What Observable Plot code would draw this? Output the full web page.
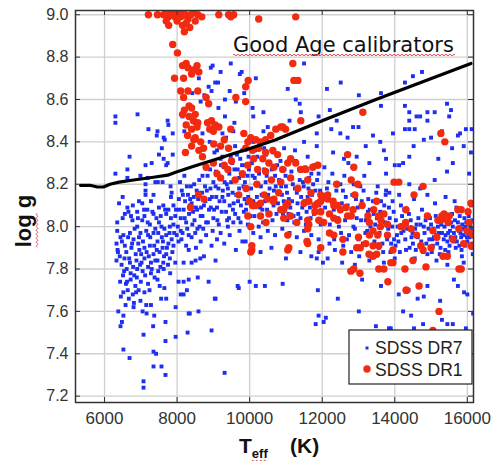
<!DOCTYPE html>
<html><head><meta charset="utf-8">
<script src="https://cdn.jsdelivr.net/npm/d3@7"></script>
<script src="https://cdn.jsdelivr.net/npm/@observablehq/plot@0.6"></script>
<style>
html,body{margin:0;padding:0;background:#fff;width:494px;height:461px;overflow:hidden;}
</style>
</head><body><div id="chart"></div>
<script>
const xTicks = [6000, 8000, 10000, 12000, 14000, 16000];
const yTicks = [7.2, 7.4, 7.6, 7.8, 8.0, 8.2, 8.4, 8.6, 8.8, 9.0];
const seriesNames = ["SDSS DR7", "SDSS DR1"];
const titleText = "Good Age calibrators";

// SDSS DR7: [Teff (K), log g]
const dr7 = [
[6300,8.52],[6300,8.49],[6910,8.53],[7210,8.46],[7460,8.45],[7440,8.43],[7630,8.42],[7660,8.41],[7740,8.50],[7760,8.48],[7880,8.44],[7580,8.37],[7500,8.34],[7630,8.32],[7740,8.30],[7700,8.29],[7880,8.34],[6690,8.33],[7130,8.29],[7300,8.30],[6990,8.24],[6630,8.27],[6630,8.23],[6300,8.25],[7190,8.23],[7400,8.21],[7470,8.21],[6500,8.14],[7130,8.20],[7130,8.17],[7130,8.15],[7350,8.15],[7600,8.21],[7820,8.19],[7850,8.16],[7830,8.14],
[6400,8.11],[6630,8.09],[6780,8.10],[7040,8.11],[7180,8.08],[7500,8.09],[7620,8.10],[7760,8.08],[7900,8.10],[7280,8.12],[6950,8.12],
[6660,8.07],[6900,8.07],[7100,8.05],[7350,8.06],[7550,8.05],[7700,8.06],[7950,8.05],[6500,8.04],[6770,8.03],
[7040,8.03],[7250,8.01],[7500,8.02],[7800,8.00],[6350,7.98],[6900,8.00],[7650,7.99],[7900,8.01],[7400,7.99],[7150,7.98],
[6440,7.95],[6520,7.96],[6700,7.97],[6950,7.95],[7200,7.96],[7350,7.97],[7580,7.95],[7700,7.96],[7850,7.94],[7990,7.96],[6800,7.94],[7460,7.93],
[6330,7.92],[6360,7.89],[6370,7.88],[6560,7.91],[6740,7.90],[6930,7.92],[7100,7.90],[7250,7.91],[7440,7.89],[7600,7.90],[7760,7.92],[7900,7.91],[7010,7.87],[7350,7.87],[7700,7.87],
[6330,7.84],[6550,7.85],[6700,7.83],[6880,7.84],[7100,7.85],[7280,7.83],[7460,7.84],[7620,7.83],[7800,7.85],[7950,7.83],[6470,7.82],[7200,7.81],[6980,7.82],
[6540,7.79],[6720,7.78],[6900,7.80],[7050,7.79],[7280,7.78],[7480,7.79],[7630,7.80],[7810,7.78],[6820,7.77],[7380,7.76],
[6430,7.74],[6590,7.73],[6720,7.75],[6850,7.72],[7000,7.74],[7200,7.73],[7460,7.75],[7650,7.71],[6640,7.70],[6940,7.70],[7100,7.69],[6780,7.68],
[6450,7.67],[6670,7.66],[6810,7.64],[6990,7.65],[7150,7.63],[7280,7.63],[7700,7.66],[7960,7.62],[6580,7.63],[6520,7.69],
[6350,8.02],[6420,7.86],[6480,7.93],[6510,7.77],[6560,8.06],[6600,7.88],[6610,7.80],[6650,7.95],[6680,7.85],[6730,8.05],[6760,7.92],[6790,7.81],[6830,7.99],[6860,7.87],[6890,7.76],[6920,8.04],[6960,7.89],[6990,7.97],[7020,7.83],[7060,7.93],[7090,8.08],[7120,7.77],[7160,7.88],[7190,8.02],[7220,7.86],[7260,7.95],[7300,7.80],[7320,8.07],[7370,7.91],[7400,7.84],[7430,8.04],[7480,7.97],[7520,7.88],[7540,7.81],[7570,8.00],[7610,7.93],[7640,7.86],[7670,8.08],[7720,7.90],[7750,7.82],[7790,7.97],[7830,8.04],[7870,7.88],[7920,7.97],[7970,8.08],[6620,7.74],[6870,7.69],[7240,7.70],[7520,7.72],[7560,7.66],
[6380,7.60],[7050,7.60],[7160,7.59],[6520,7.58],[6480,7.55],[6440,7.53],[7370,7.58],[7680,7.55],[7075,7.49],[6520,7.42],[6690,7.38],[7350,7.41],[7420,7.40],[7350,7.34],[7570,7.34],[7680,7.30],[7075,7.27],[7075,7.24],[7680,7.46],[6800,7.62],[7340,7.53],[7960,7.48],[8290,7.50],[8350,7.59],[8590,7.60],[8950,7.51],[9040,7.66],[9310,7.31],[9670,7.72],
[8320,7.89],[8180,7.83],[8400,7.83],[8510,7.84],[8640,7.85],[8740,7.86],[9060,7.84],[8040,7.74],[8180,7.74],[8320,7.75],[8570,7.76],[8870,7.74],[8100,7.68],[8180,7.68],[8270,7.70],[9060,7.66],[9700,7.71],[10000,7.74],[10170,7.72],[10420,7.72],[8320,7.59],
[8040,7.93],[8150,7.97],[8250,7.91],[8400,7.95],[8520,7.90],[8650,7.93],[8800,7.96],[8950,7.91],[9100,7.94],[9300,7.92],[9450,7.96],[9620,7.89],[9800,7.93],[9890,7.93],
[8020,8.00],[8100,8.04],[8180,8.08],[8250,8.02],[8330,8.06],[8400,8.11],[8480,8.03],[8550,8.08],[8620,8.00],[8700,8.05],[8780,8.12],[8850,8.02],[8930,8.09],[9000,8.04],[9080,8.14],[9150,8.01],[9230,8.07],[9300,8.12],[9380,8.03],[9450,8.10],[9530,8.16],[9600,8.06],[9680,8.12],[9750,8.02],[9830,8.19],[9900,8.08],[9960,8.14],
[8050,8.13],[8130,8.17],[8220,8.12],[8300,8.15],[8380,8.19],[8460,8.14],[8540,8.17],[8610,8.22],[8690,8.16],[8770,8.19],[8840,8.24],[8920,8.18],[9000,8.21],[9070,8.26],[9140,8.18],[9220,8.23],[9290,8.28],[9370,8.20],[9440,8.25],[9520,8.30],[9590,8.22],[9670,8.27],[9740,8.32],[9820,8.24],[9890,8.29],[9970,8.33],
[8080,8.21],[8200,8.24],[8350,8.10],[8440,8.07],[8580,8.13],[8660,8.09],[8900,8.13],[9100,8.09],[9260,8.17],[9410,8.15],[9560,8.11],[9710,8.18],[9860,8.13],[9940,8.24],[9650,8.34],[9480,8.33],[9800,8.36],
[8100,7.98],[8280,7.99],[8500,7.97],[8720,7.99],[8980,7.98],[9200,7.97],[9400,8.00],[9550,8.02],[9720,7.98],[9950,8.01],
[8060,8.08],[8120,7.94],[8160,8.15],[8210,8.04],[8270,8.19],[8320,7.96],[8360,8.13],[8420,8.01],[8470,8.20],[8520,8.09],[8560,7.99],[8600,8.16],[8650,8.05],[8700,8.24],[8740,8.10],[8800,8.02],[8820,8.17],[8880,8.08],[8910,8.27],[8960,8.14],[9020,8.08],[9060,8.19],[9110,8.03],[9170,8.12],[9210,8.29],[9250,8.14],[9310,8.21],[9350,8.07],[9400,8.18],[9430,8.04],[9490,8.21],[9540,8.08],[9580,8.27],[9630,8.15],[9690,8.04],[9710,8.23],[9760,8.10],[9790,8.29],[9840,8.07],[9870,8.21],[9920,8.11],[9980,8.27],[9250,8.33],[9030,8.35],
[8150,8.52],[8650,8.59],[8750,8.62],[8870,8.66],[8930,8.75],[9200,8.73],[9480,8.77],[9730,8.72],[8980,8.76],[9780,8.73],[10170,8.70],[9050,8.68],[9130,8.68],[8950,8.64],[9450,8.64],[9850,8.63],[9620,8.59],[9320,8.60],[9140,8.56],[10080,8.56],[10380,8.54],[10100,8.52],[9580,8.49],[10380,8.45],[10500,8.47],[8500,8.49],[8700,8.44],[9250,8.44],[8300,8.57],[8420,8.63],[8600,8.70],[9320,8.52],[9000,8.47],[8200,8.45],
[8900,8.40],[9100,8.36],[9350,8.42],[9600,8.38],[9850,8.44],[10100,8.40],[10400,8.37],[10600,8.43],[9200,8.32],[9550,8.45],
[10020,8.05],[10100,8.12],[10180,8.20],[10250,8.00],[10330,8.15],[10400,8.27],[10480,8.08],[10550,8.18],[10630,8.03],[10700,8.24],[10780,8.11],[10850,8.31],[10920,8.06],[11000,8.19],[11080,8.13],[11150,8.26],[11230,8.02],[11300,8.16],[11380,8.22],[11450,8.09],[11530,8.28],[11600,8.14],[11680,8.04],[11750,8.20],[11830,8.11],[11900,8.25],[11980,8.07],
[10060,8.30],[10140,8.23],[10210,8.33],[10290,8.09],[10370,8.02],[10440,8.21],[10520,8.30],[10590,8.13],[10670,8.17],[10740,8.06],[10810,8.22],[10890,8.15],[10960,8.27],[11040,8.03],[11120,8.09],[11190,8.20],[11270,8.31],[11340,8.06],[11420,8.14],[11490,8.19],[11570,8.07],[11640,8.23],[11720,8.15],[11790,8.29],[11870,8.03],[11940,8.17],
[10040,8.18],[10080,8.24],[10130,8.05],[10200,8.14],[10260,8.25],[10310,8.19],[10350,8.08],[10420,8.12],[10470,8.24],[10510,8.15],[10570,8.06],[10610,8.27],[10660,8.10],[10720,8.19],[10760,8.29],[10830,8.08],[10870,8.19],[10940,8.12],[10990,8.24],[11030,8.16],[11070,8.06],[11110,8.23],[11170,8.12],[11210,8.05],[11250,8.18],[11320,8.11],[11360,8.27],[11400,8.04],[11470,8.21],[11510,8.12],[11550,8.01],[11620,8.18],[11660,8.09],[11700,8.25],[11770,8.06],[11810,8.17],[11860,8.22],[11920,8.10],[11960,8.01],
[10100,7.97],[10300,7.95],[10500,7.98],[10700,7.96],[10900,7.99],[11100,7.97],[11300,7.95],[11500,7.98],[11700,7.96],[11900,7.94],
[10150,8.36],[10450,8.34],[10650,8.35],[10950,8.37],[11250,8.36],[11600,8.33],[11850,8.38],
[10300,7.88],[10600,7.90],[11000,7.85],[11400,7.88],[11700,7.86],[12020,7.83],[11850,7.85],[11900,7.88],
[10910,7.73],[11880,7.70],[11820,7.54],[12040,7.55],[12100,7.57],[12430,7.66],[13010,7.60],[13480,7.53],[13840,7.52],[14230,7.60],[14530,7.52],[14780,7.54],[15250,7.65],[15300,7.56],[15450,7.54],[15910,7.69],[16160,7.59],[15630,7.75],[15740,7.80],[11900,7.58],
[12030,8.02],[12100,8.13],[12170,8.21],[12240,7.97],[12320,8.08],[12390,8.17],[12460,8.00],[12540,8.11],[12610,8.24],[12680,7.94],[12760,8.05],[12830,8.15],[12900,7.99],[12980,8.09],[13050,8.19],[13120,7.92],[13200,8.03],[13270,8.13],[13340,7.96],[13420,8.06],[13490,8.16],[13560,7.90],[13640,8.00],[13710,8.10],[13790,7.94],[13860,8.04],[13940,8.12],
[12060,8.28],[12200,7.92],[12280,8.25],[12350,7.89],[12430,8.04],[12500,8.20],[12580,7.91],[12650,8.14],[12720,8.30],[12800,7.88],[12870,8.20],[12950,8.04],[13020,7.86],[13090,8.12],[13160,8.24],[13240,7.98],[13310,8.08],[13380,7.87],[13460,8.01],[13530,8.19],[13600,8.07],[13680,7.88],[13750,8.15],[13820,7.99],[13900,7.92],[13970,8.07],
[12080,8.09],[12130,8.18],[12210,8.01],[12260,8.12],[12330,7.94],[12370,8.20],[12440,8.10],[12520,7.97],[12570,8.17],[12630,8.03],[12700,8.10],[12740,7.96],[12810,8.08],[12860,8.00],[12930,8.13],[13000,7.94],[13070,8.03],[13140,8.17],[13190,7.97],[13260,8.07],[13330,8.00],[13400,8.12],[13440,7.93],[13510,8.04],[13580,7.97],[13620,8.12],[13660,7.92],[13730,8.02],[13770,7.96],[13840,8.09],[13880,7.88],[13930,8.00],[13980,7.94],
[12150,7.85],[12550,7.83],[12900,7.82],[13300,7.84],[13700,7.83],[14000,7.85],
[13620,7.72],[13100,7.75],[14110,7.68],[14380,7.70],[14630,7.66],[14800,7.67],[14900,7.72],[15740,7.72],[16000,7.68],[14450,7.58],[13890,7.52],[15600,7.54],[15960,7.52],
[11050,8.65],[11270,8.60],[11380,8.58],[11500,8.77],[12130,8.65],[12510,8.68],[13010,8.62],[11410,8.54],[11100,8.50],[11900,8.52],[12210,8.55],[12400,8.50],[12850,8.47],[13000,8.47],[12250,8.46],[12500,8.44],[11850,8.44],[12700,8.42],[13200,8.38],[13400,8.43],[13620,8.63],[13620,8.57],[14280,8.68],[14500,8.71],[14750,8.73],[14280,8.57],[14400,8.54],[14600,8.52],[14700,8.52],[14900,8.54],[15100,8.54],[14400,8.50],[14900,8.50],[15440,8.58],[15500,8.52],[15550,8.55],[14280,8.46],[14400,8.46],[14550,8.46],[14800,8.41],[15000,8.42],[13950,8.44],[15740,8.43],[15800,8.44],[15960,8.46],[16120,8.46],[13600,8.40],[13700,8.36],[14520,8.38],[14400,8.33],[14230,8.30],[14000,8.29],[14120,8.29],[13760,8.32],[13760,8.25],[15200,8.32],[15580,8.37],[15440,8.26],[15600,8.30],[14400,8.20],[15100,8.22],[13760,8.17],[13850,8.16],[16050,8.25],[16100,8.35],[15900,8.38],[15300,8.45],[12600,8.32],[12300,8.35],[11500,8.40],[13300,8.30],[12950,8.33],
[14030,8.03],[14100,7.93],[14170,8.10],[14240,7.98],[14310,7.89],[14390,8.06],[14460,7.95],[14530,8.13],[14600,8.01],[14680,7.91],[14750,8.08],[14820,7.97],[14900,7.87],[14970,8.04],[15040,7.94],[15110,8.11],[15190,8.00],[15260,7.90],[15330,8.06],[15400,7.96],[15480,7.88],[15550,8.02],[15620,7.93],[15700,8.09],[15770,7.98],[15840,7.89],[15920,8.04],[15990,7.95],[16080,8.01],[16130,7.92],
[14060,7.96],[14200,8.05],[14350,7.99],[14500,7.92],[14650,8.04],[14800,8.00],[14950,7.94],[15070,7.99],[15150,7.96],[15220,8.03],[15300,7.97],[15370,8.00],[15450,7.93],[15520,7.98],[15600,8.00],[15670,7.95],[15740,8.02],[15810,7.97],[15880,7.99],[15950,8.00],[16020,7.97],[16100,7.99],[15050,7.91],[15680,7.90],[15850,7.86],[16150,7.87],[14120,8.15],[14900,8.15],[15650,8.12],[16100,8.10],[14700,8.18],[15400,8.14],
[14020,7.91],[14080,8.00],[14140,7.88],[14180,7.97],[14260,8.08],[14290,7.94],[14330,8.01],[14410,7.90],[14440,8.03],[14490,7.97],[14560,7.99],[14580,7.89],[14630,7.95],[14710,8.01],[14730,7.93],[14780,7.88],[14850,8.03],[14870,7.92],[14930,7.99],[15000,8.01],[15020,7.88],[15080,7.95],[15130,8.05],[15170,7.92],[15210,7.97],[15240,7.87],[15280,8.01],[15350,7.94],[15390,7.89],[15420,8.05],[15470,7.97],[15510,7.91],[15540,7.95],[15580,8.06],[15630,7.97],[15660,8.03],[15710,7.93],[15730,7.99],[15780,7.91],[15790,8.05],[15830,7.95],[15860,8.01],[15900,7.96],[15930,7.91],[15970,8.02],[16000,7.93],[16040,8.05],[16060,7.95],[16110,7.90],[16140,8.03],[16150,7.96],
[15150,7.84],[15450,7.82],[15900,7.83],[14550,7.85]
];

// SDSS DR1: [Teff (K), log g]
const dr1 = [
[7210,9.00],[7460,9.00],[7630,9.00],[7700,9.01],[7760,8.99],[7820,9.00],[7880,9.01],[7940,8.99],[7990,9.00],[8050,9.01],[8100,8.99],[8170,9.00],[8240,9.00],[8300,8.98],[8380,9.00],[8450,9.01],[8570,9.00],[8680,8.99],[9150,9.00],[9420,9.00],[9480,8.99],[9560,9.00],[10250,8.98],[11270,8.99],[7770,8.95],[8150,8.95],[8250,8.96],[8350,8.94],[8500,8.97],[8200,8.92],[7880,8.86],[8010,8.82],[7700,8.97],[8000,8.97],
[8150,8.76],[8250,8.77],[8300,8.75],[8450,8.74],[8550,8.76],[8600,8.73],[8400,8.72],[7930,8.70],[8180,8.70],[8100,8.64],[8300,8.64],[8570,8.64],[8800,8.61],[8870,8.58],[8180,8.61],[8330,8.57],[8200,8.55],[8400,8.56],[8500,8.53],[8330,8.52],[8450,8.50],[8570,8.49],[8250,8.48],[8400,8.46],[8550,8.47],[8150,8.53],[8840,8.49],[8950,8.50],[9050,8.48],[9150,8.47],[9000,8.45],[8900,8.46],[9620,8.61],[9890,8.59],[8290,8.43],[8500,8.42],[8650,8.40],[8730,8.37],[8400,8.38],[8600,8.36],[9010,8.39],[9200,8.38],[9420,8.37],[9480,8.46],[9300,8.41],[8230,8.35],[8460,8.41],
[9960,8.69],[9890,8.66],[11220,8.69],[11190,8.77],[11330,8.69],[11410,8.50],[10910,8.47],[10990,8.46],[13120,8.54],[15270,8.44],[15380,8.40],
[9840,8.44],[10030,8.42],[9950,8.40],[10170,8.41],[10300,8.40],[10440,8.41],[10580,8.43],[10720,8.46],[10860,8.47],[9890,8.37],[10080,8.36],[10250,8.37],[10440,8.35],[10640,8.36],[10770,8.34],[10110,8.32],[10360,8.32],[10530,8.30],[10670,8.28],[10910,8.27],[11050,8.30],[9950,8.29],[10220,8.27],[10440,8.26],[11130,8.32],[11270,8.30],[11410,8.27],[11550,8.27],[11740,8.28],[11880,8.29],[11130,8.23],[11600,8.22],[10860,8.21],[11330,8.18],[11690,8.16],[11960,8.15],[12150,8.13],[12320,8.10],[10300,8.11],[10110,8.10],[10670,8.13],[11050,8.11],[11500,8.11],[11880,8.11],[10860,8.08],[11130,8.05],[11600,8.03],[12040,8.02],[12430,8.03],[11960,8.07],
[9600,8.22],[9800,8.25],[9400,8.27],[9200,8.23],[9700,8.15],[9900,8.18],[10000,8.12],[10200,8.20],[10400,8.15],[10600,8.22],[10800,8.16],[9500,8.31],[9300,8.29],[10300,8.05],[10450,8.02],[9950,8.05],[11300,8.02],[11800,8.07],[8800,8.28],[9000,8.30],[8700,8.33],[9100,8.25],[8590,8.15],[8370,8.09],[8740,8.13],
[10080,8.10],[10170,8.10],[10030,8.00],[10060,7.91],[10060,7.89],[10030,7.88],[10530,8.06],[10500,8.13],[10650,8.12],
[11050,7.89],[11050,7.96],[11600,7.92],[11960,7.90],[12870,7.80],[13040,7.78],[12790,7.79],[13400,7.86],[13500,7.87],[13700,7.80],[13810,7.74],[13950,7.83],[14280,7.80],[14310,7.70],[14670,7.72],[14860,7.81],[15220,7.60],[15770,7.80],[15050,7.51],
[11080,7.90],[10940,8.04],[11580,7.93],[12570,7.88],[13290,7.87],
[10940,8.08],[11000,8.10],[11630,8.12],[11800,8.10],[11960,8.12],[12100,8.14],[12200,8.06],[12320,8.04],[12650,8.09],[12800,8.05],[12850,8.08],[11630,8.01],[11910,8.03],[11600,7.99],[12320,7.96],[12570,7.94],[13000,7.95],[13200,7.92],[13400,7.91],[13300,7.96],[12950,7.90],[13050,7.90],
[12150,8.15],[12430,8.10],[13260,8.05],[13420,8.08],[13600,8.00],[13800,8.01],[14170,8.00],[14300,8.02],[14450,7.99],[14530,8.15],[14780,8.19],[13980,8.21],[14110,8.21],[12980,8.20],[12870,8.28],[12700,8.34],
[12300,8.12],[12500,8.08],[12700,8.05],[12900,8.15],[13100,8.10],[13300,8.02],[13500,8.12],[13700,8.06],[12200,7.97],[13400,7.98],[13800,7.96],[12400,8.20],[12800,8.22],
[13560,8.05],[13620,8.03],[13530,7.96],[13560,7.91],[13560,7.80],[13890,7.83],[13950,7.89],[14230,8.00],[14310,8.08],[14330,7.70],[14500,7.84],[14720,7.91],[14780,7.89],[15000,7.90],[15050,7.98],[15160,7.95],[15190,8.03],[15330,8.04],[15330,7.86],[15360,8.06],[15470,8.02],[15740,8.08],[15830,7.80],[15990,7.98],[16020,8.07],[16100,7.91],[16160,7.96],[16050,8.02],[15770,7.99],
[15270,8.03],[15500,8.05],[15830,8.08],[16100,8.11],[15300,8.05],[15600,7.94],[15900,7.92],[16120,7.97],[14900,8.05],[14600,7.96],[15450,7.86]
];

// Black boundary curve
const lineT = [5340,5600,5800,5970,6150,6400,6800,7350,7740,7960,8460,9120,9560,10030,10720,12100,13480,16100];
const lineG = [8.195,8.195,8.187,8.187,8.20,8.21,8.22,8.233,8.243,8.257,8.285,8.32,8.345,8.37,8.41,8.507,8.60,8.77];

const W = 494, H = 461, mL = 75, mR = 21, mT = 10, mB = 59;
const fw = W - mL - mR, fh = H - mT - mB;
const blue = "#1e2ef2", red = "#f22a10", squiggle = "#e5484d";
const lineData = lineT.map((t, i) => ({t, g: lineG[i]}));

const plot = Plot.plot({
  width: W, height: H,
  marginLeft: mL, marginRight: mR, marginTop: mT, marginBottom: mB,
  style: {fontFamily: "'Liberation Sans', Arial, sans-serif", background: "#fff", color: "#333"},
  x: {domain: [5200, 16170]},
  y: {domain: [7.17, 9.02]},
  marks: [
    Plot.gridX(xTicks, {stroke: "#cfcfcf", strokeOpacity: 1, strokeWidth: 1.3}),
    Plot.gridY(yTicks, {stroke: "#cfcfcf", strokeOpacity: 1, strokeWidth: 1.3}),
    Plot.dot(dr7, {x: d => d[0], y: d => d[1], symbol: "square", r: 2.2, fill: blue, stroke: null, clip: true}),
    Plot.dot(dr1, {x: d => d[0], y: d => d[1], r: 3.7, fill: red, stroke: null, clip: true}),
    Plot.line(lineData, {x: "t", y: "g", stroke: "#000", strokeWidth: 3.2, clip: true}),
    Plot.tickX(xTicks, {x: d => d, stroke: "#333", insetTop: fh - 5}),
    Plot.tickX(xTicks, {x: d => d, stroke: "#333", insetBottom: fh - 5}),
    Plot.tickY(yTicks, {y: d => d, stroke: "#333", insetRight: fw - 5}),
    Plot.tickY(yTicks, {y: d => d, stroke: "#333", insetLeft: fw - 5}),
    Plot.frame({stroke: "#333", strokeWidth: 1.5}),
    Plot.axisX(xTicks, {tickSize: 0, tickPadding: 9, fontSize: 17, color: "#333", tickFormat: d3.format("d"), label: null}),
    Plot.axisY(yTicks, {tickSize: 0, tickPadding: 7, fontSize: 16, color: "#333", tickFormat: d3.format(".1f"), label: null})
  ]
});
document.getElementById("chart").appendChild(plot);

function wavePath(x0, x1, y) {
  let d = `M${x0},${y} q1,-1.6 2,0`;
  for (let x = x0 + 2; x < x1; x += 2) d += " t2,0";
  return d;
}

const svg = d3.select(plot);
const ann = svg.append("g").attr("text-anchor", "start");

// title annotation
const title = ann.append("text")
  .attr("x", 233).attr("y", 52)
  .attr("font-family", "'DejaVu Sans', Verdana, sans-serif")
  .attr("font-size", 21).attr("fill", "#111")
  .text(titleText);
const tLen = title.node().getComputedTextLength();
ann.append("path").attr("d", wavePath(233, 233 + tLen, 55))
  .attr("fill", "none").attr("stroke", squiggle).attr("stroke-width", 1);

// y-axis label
const yg = ann.append("g").attr("transform", "translate(31,221) rotate(-90)");
const yl = yg.append("text")
  .attr("text-anchor", "middle")
  .attr("font-size", 22).attr("font-weight", "bold").attr("fill", "#111");
const ylog = yl.append("tspan").text("log");
yl.append("tspan").text(" g");
const yTot = yl.node().getComputedTextLength();
const yLogLen = ylog.node().getComputedTextLength();
yg.append("path").attr("d", wavePath(-yTot / 2, -yTot / 2 + yLogLen, 6))
  .attr("fill", "none").attr("stroke", squiggle).attr("stroke-width", 1);

// x-axis label
const xl = ann.append("text")
  .attr("x", 239).attr("y", 453)
  .attr("font-size", 21).attr("font-weight", "bold").attr("fill", "#111");
const xT = xl.append("tspan").text("T");
const xe = xl.append("tspan").attr("font-size", 13).attr("dy", 5).text("eff");
const tW = xT.node().getComputedTextLength();
const eW = xe.node().getComputedTextLength();
ann.append("path").attr("d", wavePath(239 + tW, 239 + tW + eW, 461))
  .attr("fill", "none").attr("stroke", squiggle).attr("stroke-width", 1);
ann.append("text").attr("x", 290).attr("y", 453)
  .attr("font-size", 21).attr("font-weight", "bold").attr("fill", "#111").text("(K)");

// legend
const lg = ann.append("g");
lg.append("rect").attr("x", 349).attr("y", 330).attr("width", 123).attr("height", 54)
  .attr("fill", "#fff").attr("stroke", "#222").attr("stroke-width", 1.2);
lg.append("rect").attr("x", 365.5).attr("y", 346.5).attr("width", 3).attr("height", 3).attr("fill", blue);
lg.append("circle").attr("cx", 367).attr("cy", 369).attr("r", 3.7).attr("fill", red);
lg.append("text").attr("x", 375).attr("y", 354).attr("font-size", 17.5).attr("fill", "#222").text(seriesNames[0]);
lg.append("text").attr("x", 375).attr("y", 376).attr("font-size", 17.5).attr("fill", "#222").text(seriesNames[1]);
</script>
</body></html>
